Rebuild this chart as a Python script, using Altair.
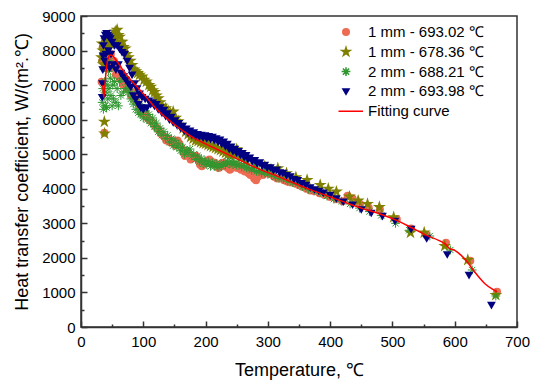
import altair as alt
import pandas as pd

# ---------------- data ----------------
NAMES = ["1 mm - 693.02 ℃", "1 mm - 678.36 ℃", "2 mm - 688.21 ℃", "2 mm - 693.98 ℃", "Fitting curve"]
COLORS = ["#EF6A53", "#808000", "#2E972E", "#000080", "#FF0000"]

X_TICKS = [0, 100, 200, 300, 400, 500, 600, 700]
X_MINOR = [50, 150, 250, 350, 450, 550, 650]
Y_TICKS = [0, 1000, 2000, 3000, 4000, 5000, 6000, 7000, 8000, 9000]
Y_MINOR = [500, 1500, 2500, 3500, 4500, 5500, 6500, 7500, 8500]

# series 1: 1 mm - 693.02 (circles)
A_T = [33, 34, 35, 36, 37.5, 38.5, 40, 42, 44, 46,
       48, 50, 53, 56, 59, 62, 65, 68, 71, 74,
       77, 80, 83, 86, 89, 92, 95, 98, 101, 104,
       107, 110, 113, 116, 119, 122, 125, 128, 131, 134,
       137, 140, 143, 146, 149, 152, 155, 158, 161, 164,
       167, 170, 173, 176, 179, 182, 185, 188, 191, 194,
       197, 200, 203, 206, 209, 212, 215, 218, 221, 224,
       227, 230, 233, 236, 239, 242, 245, 248, 251, 254,
       257, 260, 263, 266, 269, 272, 275, 278, 281, 284,
       288, 292, 296, 300, 305, 310, 315, 320, 326, 332,
       338, 344, 350, 356, 362, 368, 375, 383, 391, 400,
       410, 420, 428, 436, 448, 462, 480, 507, 530, 555,
       586, 625, 668]
A_H = [7100, 7700, 8100, 7900, 5620, 7500, 8000, 7800, 8100, 7700,
       7900, 7500, 7700, 7300, 7500, 7200, 7300, 7000, 7100, 6900,
       6950, 6700, 6800, 6600, 6650, 6450, 6300, 6180, 6250, 6150,
       6050, 6000, 5950, 5900, 5800, 5750, 5700, 5600, 5550, 5500,
       5400, 5450, 5350, 5400, 5300, 5250, 5400, 5300, 5200, 5050,
       4950, 5100, 5000, 4850, 4950, 4900, 4950, 4850, 4700, 4650,
       4700, 4800, 4750, 4850, 4800, 4700, 4750, 4650, 4600, 4700,
       4750, 4650, 4700, 4600, 4550, 4600, 4700, 4650, 4600, 4650,
       4550, 4600, 4500, 4550, 4450, 4400, 4450, 4300, 4250, 4350,
       4450, 4400, 4450, 4450, 4420, 4350, 4300, 4330, 4250, 4200,
       4180, 4150, 4100, 4050, 4000, 3950, 3930, 3870, 3820, 3760,
       3700, 3640, 3800, 3720, 3560, 3450, 3400, 3115, 2850, 2650,
       2440, 1918, 1022]

# series 2: 1 mm - 678.36 (stars)
B_T = [33, 34, 35, 36, 37.5, 37.8, 39, 41, 43, 45,
       47, 50, 53, 55, 58, 60, 62, 64, 66, 68,
       71, 73, 76, 79, 82, 85, 88, 91, 94, 98,
       101, 105, 109, 112, 115, 118, 121, 124, 127, 130,
       133, 136, 140, 144, 148, 152, 156, 160, 164, 168,
       172, 176, 180, 184, 188, 192, 196, 200, 204, 208,
       212, 216, 220, 224, 228, 232, 236, 240, 245, 250,
       256, 265, 280, 295, 305, 316, 330, 345, 363, 384,
       397, 410, 431, 445, 460, 479, 502, 529, 551, 584,
       621, 666]
B_H = [7800, 8200, 8000, 7600, 5940, 5600, 8000, 8300, 8100, 8350,
       8200, 8400, 8350, 8550, 8600, 8450, 8400, 8250, 8250, 8100,
       8060, 7900, 7800, 7700, 7580, 7450, 7400, 7350, 7300, 7243,
       7150, 7100, 7000, 6953, 6850, 6800, 6700, 6616, 6500, 6400,
       6300, 6330, 6250, 6180, 6230, 6050, 5950, 5850, 5750, 5650,
       5580, 5500, 5450, 5400, 5380, 5350, 5320, 5300, 5270, 5240,
       5210, 5180, 5150, 5120, 5080, 5040, 5000, 4970, 5000, 5141,
       4900, 4800, 4700, 4640, 4560, 4591, 4450, 4330, 4253, 4109,
       4000, 3916, 3771, 3655, 3560, 3470, 3174, 2730, 2730, 2344,
       1939, 926]

# series 3: 2 mm - 688.21 (asterisks)
C_T = [34, 35, 36, 37, 38, 39, 40, 41, 42, 43,
       44, 45, 46, 47, 48, 49, 50, 51, 52, 54,
       56, 58, 60, 62, 64, 66, 68, 70, 72, 74,
       76, 78, 80, 82, 84, 86, 88, 90, 92, 94,
       96, 98, 100, 103, 106, 109, 112, 115, 118, 121,
       124, 127, 130, 133, 136, 139, 142, 145, 148, 151,
       154, 157, 160, 163, 166, 169, 172, 175, 178, 181,
       184, 187, 190, 193, 196, 199, 202, 205, 208, 211,
       214, 217, 220, 223, 226, 229, 232, 235, 238, 241,
       244, 247, 250, 254, 258, 262, 266, 270, 274, 278,
       282, 286, 290, 295, 300, 306, 312, 318, 325, 332,
       340, 348, 356, 365, 374, 384, 395, 406, 418, 432,
       447, 463, 482, 505, 527, 560, 593, 628, 666]
C_H = [6500, 6900, 6300, 6700, 7100, 6400, 6800, 6350, 7000, 6600,
       7400, 6900, 7700, 7200, 6700, 7500, 6400, 7000, 6600, 7100,
       6500, 6900, 6400, 7100, 6700, 7200, 6800, 7250, 6900, 7100,
       6800, 6950, 6600, 6750, 6450, 6600, 6300, 6500, 6200, 6400,
       6150, 6350, 6050, 6250, 6000, 6150, 5900, 6050, 5800, 5900,
       5650, 5750, 5550, 5650, 5450, 5550, 5350, 5450, 5250, 5400,
       5200, 5300, 5100, 5200, 5000, 5100, 5050, 5150, 4950, 5000,
       4850, 4950, 4780, 4880, 4720, 4820, 4700, 4780, 4650, 4750,
       4650, 4720, 4620, 4700, 4650, 4750, 4700, 4800, 4720, 4800,
       4700, 4780, 4680, 4720, 4640, 4680, 4600, 4620, 4540, 4580,
       4500, 4530, 4460, 4480, 4420, 4400, 4350, 4300, 4280, 4220,
       4180, 4130, 4060, 3990, 3940, 3880, 3790, 3700, 3640, 3560,
       3440, 3340, 3230, 3000, 2800, 2633, 2228, 1650, 897]

# series 4: 2 mm - 693.98 (down triangles)
D_T = [34, 34.5, 35, 35.5, 36, 37, 38, 39, 40, 41,
       42, 43, 44, 45, 46, 47, 48, 50, 52, 54,
       56, 58, 60, 62, 64, 66, 68, 70, 72, 74,
       76, 78, 80, 82, 84, 86, 88, 90, 92, 94,
       96, 98, 100, 103, 106, 109, 112, 115, 118, 121,
       124, 127, 130, 133, 136, 139, 142, 145, 148, 151,
       154, 157, 160, 163, 166, 169, 172, 175, 178, 181,
       184, 187, 190, 193, 196, 199, 202, 205, 208, 211,
       214, 217, 220, 223, 226, 229, 232, 235, 238, 241,
       244, 247, 250, 253, 256, 259, 262, 265, 268, 271,
       275, 279, 283, 287, 291, 295, 299, 304, 309, 314,
       319, 324, 330, 336, 342, 348, 354, 361, 368, 375,
       382, 389, 400, 410, 421, 436, 450, 466, 484, 504,
       530, 555, 588, 623, 659]
D_H = [6650, 7050, 7450, 7850, 8150, 8350, 7700, 8450, 7900, 8500,
       7600, 8450, 8000, 8400, 7500, 8350, 7900, 8250, 7600, 8150,
       7450, 8150, 7600, 8050, 7350, 7950, 7250, 7900, 7150, 7700,
       7050, 7500, 6950, 7300, 6700, 7050, 6600, 6900, 6450, 6750,
       6350, 6650, 6300, 6600, 6350, 6550, 6450, 6500, 6400, 6450,
       6300, 6350, 6200, 6280, 6100, 6180, 6000, 6080, 5920, 5980,
       5850, 5900, 5760, 5820, 5680, 5740, 5620, 5680, 5560, 5630,
       5520, 5580, 5500, 5560, 5480, 5540, 5460, 5520, 5440, 5500,
       5410, 5460, 5360, 5420, 5300, 5360, 5230, 5300, 5150, 5220,
       5090, 5150, 5040, 5090, 4980, 5030, 4920, 4970, 4860, 4900,
       4800, 4830, 4730, 4760, 4670, 4690, 4610, 4620, 4540, 4550,
       4470, 4460, 4390, 4360, 4280, 4250, 4160, 4110, 4040, 3980,
       3940, 3886, 3819, 3723, 3627, 3540, 3405, 3300, 3212, 3070,
       2835, 2566, 2103, 1505, 637]

# fitting curve
F_T = [35, 36.5, 38, 40, 42, 44, 47, 50, 54, 58,
       65, 75, 90, 105, 120, 135, 150, 165, 180, 200,
       220, 240, 255, 270, 290, 316, 340, 368, 395, 421,
       450, 480, 505, 530, 555, 575, 585, 592, 600, 610,
       620, 630, 640, 650, 660, 668]
F_H = [7000, 6650, 6900, 7350, 7650, 7800, 7870, 7860, 7780, 7680,
       7500, 7250, 6950, 6650, 6330, 6080, 5860, 5660, 5480, 5300,
       5130, 4960, 4830, 4700, 4540, 4360, 4180, 3975, 3800, 3627,
       3440, 3270, 3100, 2880, 2650, 2500, 2400, 2270, 2220, 2080,
       1890, 1640, 1420, 1230, 1100, 1020]

rows = []
for name, ts, hs in [(NAMES[0], A_T, A_H), (NAMES[1], B_T, B_H),
                     (NAMES[2], C_T, C_H), (NAMES[3], D_T, D_H)]:
    for t, h in zip(ts, hs):
        rows.append({"T": t, "h": h, "series": name})
pts = pd.DataFrame(rows)
fit = pd.DataFrame({"T": F_T, "h": F_H})

# ---------------- style ----------------
W, H = 436, 311
FONT = "Liberation Sans"
FRAME = "#333333"

STAR = ("M0,-1.7L0.382,-0.525L1.617,-0.525L0.618,0.201L0.999,1.375L0,0.649"
        "L-0.999,1.375L-0.618,0.201L-1.617,-0.525L-0.382,-0.525Z")
AST = "M-1.1,0L1.1,0M0,-1.1L0,1.1M-0.78,-0.78L0.78,0.78M-0.78,0.78L0.78,-0.78"
TRI = "M-1.1,-0.8L1.1,-0.8L0,1.1Z"
LINE = "M-4.25,0L4.25,0"
SHAPES = ["circle", STAR, AST, TRI, LINE]
STROKES = ["transparent", "transparent", COLORS[2], "transparent", COLORS[4]]

xs = alt.Scale(domain=[0, 700], nice=False, zero=False)
ys = alt.Scale(domain=[0, 9000], nice=False, zero=False)

common = dict(labelFont=FONT, labelFontSize=15, labelColor="black",
              titleFont=FONT, titleFontSize=18, titleColor="black",
              titleFontWeight="normal", grid=False, labelFlush=False, format="d")

x_main = alt.Axis(orient="bottom", values=X_TICKS, ticks=False, labelPadding=7,
                  domainColor=FRAME, domainWidth=1.5,
                  title="Temperature, ℃", titlePadding=12, **common)
y_main = alt.Axis(orient="left", values=Y_TICKS, ticks=False, labelPadding=6,
                  domainColor=FRAME, domainWidth=1.5,
                  title="Heat transfer coefficient, W/(m².℃)", titlePadding=10, **common)

x_major = alt.Axis(orient="top", offset=-H, values=X_TICKS, labels=False, domain=False,
                   tickSize=6, tickWidth=1.5, tickColor=FRAME, grid=False, title="")
y_major = alt.Axis(orient="right", offset=-W, values=Y_TICKS, labels=False, domain=False,
                   tickSize=6, tickWidth=1.5, tickColor=FRAME, grid=False, title="")
x_minor = alt.Axis(orient="top", offset=-H, values=X_MINOR, labels=False, domain=False,
                   tickSize=3, tickWidth=1.5, tickColor=FRAME, grid=False, title="")
y_minor = alt.Axis(orient="right", offset=-W, values=Y_MINOR, labels=False, domain=False,
                   tickSize=3, tickWidth=1.5, tickColor=FRAME, grid=False, title="")

legend = alt.Legend(title=None, orient="none", legendX=257.5, legendY=8.5, padding=0,
                    rowPadding=3.8, clipHeight=15, symbolSize=64, symbolStrokeWidth=1.5,
                    symbolOffset=0, labelOffset=14.5, labelFont=FONT, labelFontSize=15,
                    labelColor="black")

points = alt.Chart(pts).mark_point(filled=True, opacity=1, size=64, strokeWidth=1).encode(
    x=alt.X("T:Q", scale=xs, axis=x_main),
    y=alt.Y("h:Q", scale=ys, axis=y_main),
    fill=alt.Fill("series:N", scale=alt.Scale(domain=NAMES, range=COLORS), legend=legend),
    stroke=alt.Stroke("series:N", scale=alt.Scale(domain=NAMES, range=STROKES), legend=legend),
    shape=alt.Shape("series:N", scale=alt.Scale(domain=NAMES, range=SHAPES), legend=legend),
)

curve = alt.Chart(fit).mark_line(color="#FF0000", strokeWidth=1.5, interpolate="monotone").encode(
    x=alt.X("T:Q", scale=xs, axis=x_major),
    y=alt.Y("h:Q", scale=ys, axis=y_major),
)

minor = alt.Chart(fit).mark_line(opacity=0).encode(
    x=alt.X("T:Q", scale=xs, axis=x_minor),
    y=alt.Y("h:Q", scale=ys, axis=y_minor),
)

chart = alt.layer(points, curve, minor).resolve_axis(
    x="independent", y="independent"
).properties(
    width=W, height=H,
    padding={"left": 73, "top": 8, "right": 14, "bottom": 54},
    autosize=alt.AutoSizeParams(type="none"),
).configure_view(stroke=FRAME, strokeWidth=1.5)

chart.save("out.html", embed_options={"renderer": "svg", "actions": False})
